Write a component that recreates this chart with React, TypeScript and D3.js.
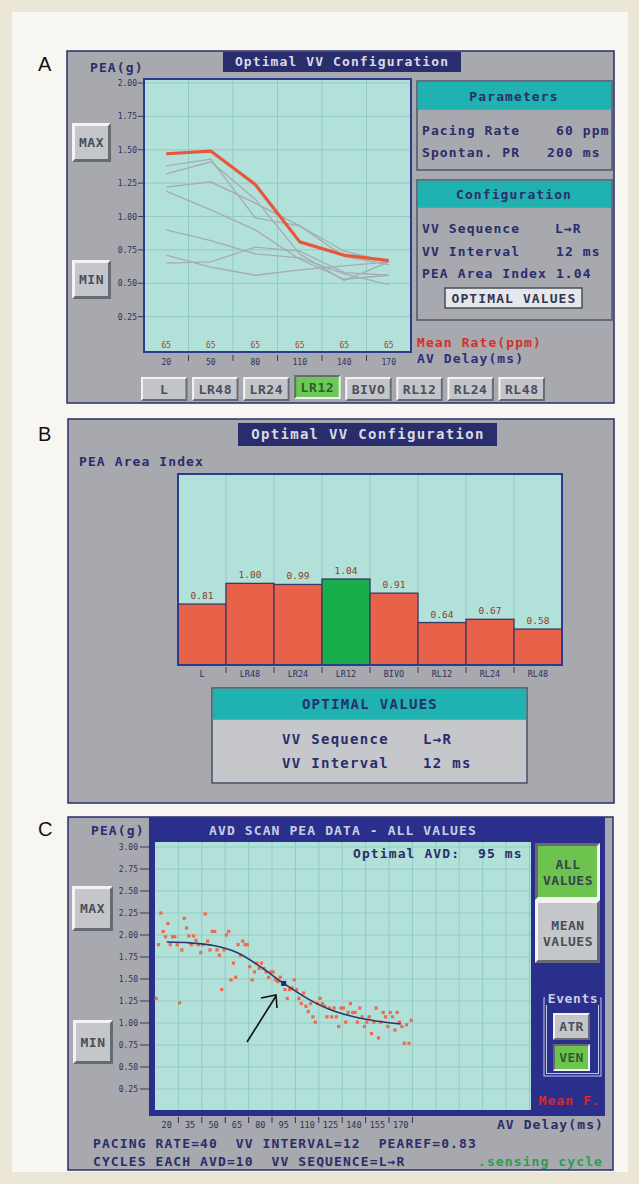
import React from 'react';
import * as d3 from 'd3';

// ---- Panel A: PEA vs AV delay for each VV configuration ----
const avdA = [20, 50, 80, 110, 140, 170];
const meanRateA = [65, 65, 65, 65, 65, 65];
const peaLR12 = [1.47, 1.49, 1.24, 0.81, 0.71, 0.67];
const peaLR48 = [1.38, 1.43, 0.99, 0.93, 0.74, 0.66];
const peaLR24 = [1.32, 1.41, 1.13, 0.72, 0.52, 0.66];
const peaBIVO = [1.22, 1.26, 1.1, 0.93, 0.7, 0.64];
const peaL = [1.19, 1.05, 0.9, 0.68, 0.53, 0.56];
const peaRL24 = [0.9, 0.82, 0.72, 0.69, 0.57, 0.49];
const peaRL48 = [0.71, 0.62, 0.56, 0.6, 0.63, 0.66];
const peaRL12 = [0.65, 0.66, 0.77, 0.74, 0.58, 0.56];
const yTicksA = [0.25, 0.5, 0.75, 1.0, 1.25, 1.5, 1.75, 2.0];

// ---- Panel B: PEA area index per configuration ----
const configs = ['L', 'LR48', 'LR24', 'LR12', 'BIVO', 'RL12', 'RL24', 'RL48'];
const peaIndex = [0.81, 1.0, 0.99, 1.04, 0.91, 0.64, 0.67, 0.58];
const optimalConfig = 'LR12';

// ---- Panel C: AVD scan, 10 cycles per AV delay ----
const avdC = [20, 35, 50, 65, 80, 95, 110, 125, 140, 155, 170];
const cycles20 = [1.28, 1.89, 2.25, 2.04, 1.98, 2.13, 1.89, 1.98, 1.98, 1.89];
const cycles35 = [1.23, 1.83, 2.19, 2.08, 1.99, 1.89, 1.99, 1.94, 1.89, 1.8];
const cycles50 = [1.89, 2.24, 1.93, 1.83, 2.04, 2.04, 1.83, 1.77, 1.38, 1.83];
const cycles65 = [2.0, 2.04, 1.49, 1.68, 1.52, 1.89, 1.77, 1.93, 1.89, 1.89];
const cycles80 = [1.64, 1.49, 1.58, 1.68, 1.62, 1.68, 1.62, 1.58, 1.52, 1.58];
const cycles95 = [1.58, 1.49, 1.47, 1.52, 1.44, 1.38, 1.28, 1.38, 1.4, 1.49];
const cycles110 = [1.38, 1.28, 1.22, 1.34, 1.19, 1.13, 1.22, 1.07, 1.01, 1.22];
const cycles125 = [1.28, 1.22, 1.19, 1.07, 1.17, 1.07, 1.17, 1.07, 0.96, 1.17];
const cycles140 = [1.17, 1.01, 1.12, 1.22, 1.12, 1.12, 1.01, 1.17, 1.07, 0.96];
const cycles155 = [1.01, 1.07, 0.88, 1.01, 1.17, 0.83, 1.01, 1.12, 1.07, 0.96];
const cycles170 = [1.12, 1.07, 0.92, 1.12, 1.01, 0.96, 0.77, 0.98, 0.77, 1.03];
const fitC = [1.92, 1.91, 1.88, 1.8, 1.64, 1.45, 1.28, 1.15, 1.07, 1.02, 0.99];
const optimalAvd = 95;
const yTicksC = [0.25, 0.5, 0.75, 1.0, 1.25, 1.5, 1.75, 2.0, 2.25, 2.5, 2.75, 3.0];

const MONO = '"DejaVu Sans Mono", monospace';
const NAVY = '#2a2d6c';
const PANEL = '#a7a9ae';
const PLOT = '#b2e1d9';
const GRID = '#93cbc3';
const TEAL = '#1fb2b0';

const T = ({ x, y, s = 13, fill = NAVY, anchor = 'start', weight = 'bold', ls = 1.1, children }: any) => (
  <text x={x} y={y} fontSize={s} fill={fill} fontFamily={MONO} fontWeight={weight}
    letterSpacing={ls} textAnchor={anchor} style={{ whiteSpace: 'pre' }}>{children}</text>
);

// raised / sunken bevel button
const Btn = ({ x, y, w, h, face = '#c4c6c9', b = 3, pressed = false, children }: any) => {
  const light = '#f3f3f3';
  const dark = '#676a72';
  return (
    <g>
      <rect x={x} y={y} width={w} height={h} fill={face} />
      <polygon points={`${x},${y} ${x + w},${y} ${x + w - b},${y + b} ${x + b},${y + b} ${x + b},${y + h - b} ${x},${y + h}`}
        fill={pressed ? dark : light} />
      <polygon points={`${x + w},${y} ${x + w},${y + h} ${x},${y + h} ${x + b},${y + h - b} ${x + w - b},${y + h - b} ${x + w - b},${y + b}`}
        fill={pressed ? light : dark} />
      {children}
    </g>
  );
};

const PanelA = () => {
  const xA = d3.scaleBand().domain(avdA.map(String)).range([144, 411]);
  const yA = d3.scaleLinear().domain([0, 2]).range([350, 83]);
  const cx = (i: number) => (xA(String(avdA[i])) as number) + xA.bandwidth() / 2;
  const line = d3.line<number>().x((_, i) => cx(i)).y(d => yA(d));
  const grays = [peaLR48, peaLR24, peaBIVO, peaL, peaRL24, peaRL48, peaRL12];
  const btnX = d3.scaleBand().domain(configs).range([141, 545]).paddingInner(0.09);

  return (
    <g>
      <text x={38} y={71} fontSize={20} fontFamily="Liberation Sans, Arial" fill="#111">A</text>
      <rect x={67} y={51} width={547} height={352} fill={PANEL} stroke={NAVY} strokeWidth={1.5} />
      <rect x={223} y={52} width={238} height={20} fill={NAVY} />
      <T x={342} y={66} fill="#d9dae8" anchor="middle">Optimal VV Configuration</T>
      <T x={90} y={72}>PEA(g)</T>

      {/* plot */}
      <rect x={144} y={79} width={267} height={273} fill={PLOT} />
      {yTicksA.map(v => (
        <line key={v} x1={145} x2={410} y1={yA(v)} y2={yA(v)} stroke={GRID} strokeWidth={1} />
      ))}
      {avdA.slice(1).map(a => (
        <line key={a} x1={xA(String(a))} x2={xA(String(a))} y1={80} y2={351} stroke={GRID} strokeWidth={1} />
      ))}
      {grays.map((g, k) => (
        <path key={k} d={line(g) as string} fill="none" stroke="#a6acb0" strokeWidth={1.3} />
      ))}
      <path d={line(peaLR12) as string} fill="none" stroke="#e8573b" strokeWidth={3.2} strokeLinejoin="round" />
      {meanRateA.map((r, i) => (
        <T key={i} x={cx(i)} y={348} s={8} fill="#b5392b" anchor="middle" weight="normal" ls={0}>{r}</T>
      ))}
      <rect x={144} y={79} width={267} height={273} fill="none" stroke="#2d3b8e" strokeWidth={2} />

      {/* axes */}
      {yTicksA.map(v => (
        <g key={v}>
          <line x1={138} x2={144} y1={yA(v)} y2={yA(v)} stroke="#3a3d5a" />
          <T x={137} y={yA(v) + 3} s={8} anchor="end" weight="normal" ls={0} fill="#2e3060">{v.toFixed(2)}</T>
        </g>
      ))}
      {avdA.map((a, i) => (
        <g key={a}>
          <T x={cx(i)} y={365} s={8} anchor="middle" weight="normal" ls={0} fill="#2e3060">{a}</T>
          {i > 0 && <line x1={xA(String(a))} x2={xA(String(a))} y1={355} y2={361} stroke="#3a3d5a" />}
        </g>
      ))}
      <T x={417} y={347} fill="#d3302a">Mean Rate(ppm)</T>
      <T x={417} y={363} fill="#2d2f7a">AV Delay(ms)</T>

      {/* MAX / MIN */}
      <Btn x={72} y={123} w={39} h={39} b={3}><T x={91.5} y={147} anchor="middle" fill="#4b4e5a" ls={0.5}>MAX</T></Btn>
      <Btn x={72} y={260} w={39} h={39} b={3}><T x={91.5} y={284} anchor="middle" fill="#4b4e5a" ls={0.5}>MIN</T></Btn>

      {/* parameter boxes */}
      <rect x={417} y={81} width={195} height={89} fill={PANEL} stroke="#50546a" strokeWidth={1.5} />
      <rect x={417.75} y={81.75} width={193.5} height={28} fill={TEAL} />
      <T x={514} y={101} anchor="middle">Parameters</T>
      <T x={422} y={135}>Pacing Rate</T>
      <T x={556} y={135}>60 ppm</T>
      <T x={422} y={157}>Spontan. PR</T>
      <T x={547} y={157}>200 ms</T>

      <rect x={417} y={180} width={195} height={140} fill={PANEL} stroke="#50546a" strokeWidth={1.5} />
      <rect x={417.75} y={180.75} width={193.5} height={27} fill={TEAL} />
      <T x={514} y={199} anchor="middle">Configuration</T>
      <T x={422} y={233}>VV Sequence</T>
      <T x={555} y={233}>L→R</T>
      <T x={422} y={256}>VV Interval</T>
      <T x={556} y={256}>12 ms</T>
      <T x={422} y={278}>PEA Area Index 1.04</T>
      <rect x={445} y={288} width={137} height={20} fill="#e6e7ea" stroke="#4a4d5c" strokeWidth={1.5} />
      <T x={514} y={303} anchor="middle" fill="#33364e">OPTIMAL VALUES</T>

      {/* configuration buttons */}
      {configs.map(c => {
        const on = c === optimalConfig;
        const x = btnX(c) as number;
        const w = btnX.bandwidth();
        return (
          <Btn key={c} x={x} y={on ? 375 : 377} w={w} h={24} b={2} face={on ? '#6cc957' : '#c3c5c8'} pressed={on}>
            <T x={x + w / 2} y={(on ? 375 : 377) + 17} anchor="middle" fill={on ? '#2e5f2a' : '#4a4f63'} ls={0.6}>{c}</T>
          </Btn>
        );
      })}
    </g>
  );
};

const PanelB = () => {
  const xB = d3.scaleBand().domain(configs).range([178, 562]);
  const yB = d3.scaleLinear().domain([0.25, 2.0]).range([665, 474.5]);
  const bw = xB.bandwidth();
  return (
    <g>
      <text x={38} y={441} fontSize={20} fontFamily="Liberation Sans, Arial" fill="#111">B</text>
      <rect x={68} y={419} width={546} height={384} fill={PANEL} stroke={NAVY} strokeWidth={1.5} />
      <rect x={238} y={423} width={259} height={23} fill={NAVY} />
      <T x={368} y={439} s={14} fill="#d9dae8" anchor="middle" ls={1.3}>Optimal VV Configuration</T>
      <T x={79} y={466}>PEA Area Index</T>

      <rect x={178} y={474} width={384} height={191} fill={PLOT} />
      {configs.slice(1).map(c => (
        <line key={c} x1={xB(c)} x2={xB(c)} y1={475} y2={664} stroke={GRID} />
      ))}
      {configs.map((c, i) => (
        <g key={c}>
          <rect x={xB(c)} y={yB(peaIndex[i])} width={bw} height={665 - yB(peaIndex[i])}
            fill={c === optimalConfig ? '#18ae4b' : '#e8624a'} stroke="#3c3868" strokeWidth={1.3} />
          <T x={(xB(c) as number) + bw / 2} y={yB(peaIndex[i]) - 5} s={9.5} anchor="middle"
            fill="#8d3b2c" weight="normal" ls={0}>{peaIndex[i].toFixed(2)}</T>
          <T x={(xB(c) as number) + bw / 2} y={677} s={8.5} anchor="middle" fill="#2e3060" weight="normal" ls={0}>{c}</T>
          {i > 0 && <line x1={xB(c)} x2={xB(c)} y1={667} y2={673} stroke="#3a3d5a" />}
        </g>
      ))}
      <rect x={178} y={474} width={384} height={191} fill="none" stroke="#2d3b8e" strokeWidth={2} />

      <rect x={212} y={688} width={315} height={95} fill="#c5c7cb" stroke="#4a4f66" strokeWidth={1.5} />
      <rect x={212.75} y={688.75} width={313.5} height={31} fill={TEAL} />
      <T x={370} y={709} s={14} anchor="middle" ls={1.3}>OPTIMAL VALUES</T>
      <T x={282} y={744} s={14} ls={1.3}>VV Sequence</T>
      <T x={423} y={744} s={14} ls={1.3}>L→R</T>
      <T x={282} y={768} s={14} ls={1.3}>VV Interval</T>
      <T x={423} y={768} s={14} ls={1.3}>12 ms</T>
    </g>
  );
};

const PanelC = () => {
  const xC = d3.scaleLinear().domain([12.5, 253.5]).range([155, 531]);
  const yC = d3.scaleLinear().domain([0, 3]).range([1111, 847]);
  const cycles = [cycles20, cycles35, cycles50, cycles65, cycles80, cycles95,
    cycles110, cycles125, cycles140, cycles155, cycles170];
  const step = 15;
  const fitLine = d3.line<number>().x((_, i) => xC(avdC[i])).y(d => yC(d)).curve(d3.curveMonotoneX);
  const optIdx = avdC.indexOf(optimalAvd);
  const gridX = d3.range(12.5 + step, 253, step);

  return (
    <g>
      <text x={38} y={836} fontSize={20} fontFamily="Liberation Sans, Arial" fill="#111">C</text>
      <rect x={68} y={817} width={545} height={353} fill={PANEL} stroke={NAVY} strokeWidth={1.5} />
      <rect x={149} y={817} width={456} height={299} fill="#2b2f8c" />
      <T x={343} y={835} fill="#c9cde6" anchor="middle">AVD SCAN PEA DATA - ALL VALUES</T>
      <T x={91} y={835}>PEA(g)</T>

      <rect x={155} y={842} width={376} height={268} fill={PLOT} />
      {yTicksC.map(v => (
        <line key={v} x1={155} x2={531} y1={yC(v)} y2={yC(v)} stroke={GRID} />
      ))}
      {gridX.map(a => (
        <line key={a} x1={xC(a)} x2={xC(a)} y1={842} y2={1110} stroke={GRID} />
      ))}
      <T x={353} y={858}>Optimal AVD:  95 ms</T>

      {cycles.map((vals, k) => vals.map((v, i) => (
        <rect key={`${k}-${i}`} x={xC(avdC[k] - step / 2 + (i + 0.5) * step / 10) - 1.6} y={yC(v) - 1.6}
          width={3.2} height={3.2} fill="#ef6a4f" />
      )))}
      <path d={fitLine(fitC) as string} fill="none" stroke="#2c3768" strokeWidth={1.6} />
      <rect x={xC(optimalAvd) - 2.5} y={yC(fitC[optIdx]) - 2.5} width={5} height={5} fill="#1f2a78" />

      {/* arrow to the optimal point */}
      <g stroke="#111" strokeWidth={1.6} fill="none">
        <line x1={247} y1={1042} x2={276} y2={996} />
        <polyline points={`261,998 276,995 277,1008`} />
      </g>

      {yTicksC.map(v => (
        <g key={v}>
          <line x1={140} x2={149} y1={yC(v)} y2={yC(v)} stroke="#3a3d5a" />
          <T x={138} y={yC(v) + 3} s={8} anchor="end" weight="normal" ls={0} fill="#2e3060">{v.toFixed(2)}</T>
        </g>
      ))}
      {avdC.map(a => (
        <g key={a}>
          <T x={xC(a)} y={1128} s={8.5} anchor="middle" weight="normal" ls={0} fill="#2e3060">{a}</T>
          <line x1={xC(a + step / 2)} x2={xC(a + step / 2)} y1={1117} y2={1123} stroke="#2e3060" />
        </g>
      ))}
      <T x={604} y={1129} anchor="end">AV Delay(ms)</T>

      <Btn x={72} y={886} w={41} h={45} b={3}><T x={92.5} y={913} anchor="middle" fill="#4b4e5a" ls={0.5}>MAX</T></Btn>
      <Btn x={73} y={1020} w={40} h={44} b={3}><T x={93} y={1047} anchor="middle" fill="#4b4e5a" ls={0.5}>MIN</T></Btn>

      <Btn x={535} y={843} w={65} h={57} b={3} face="#6cc34e" pressed>
        <T x={568} y={869} anchor="middle" fill="#3a4250" ls={0.5}>ALL</T>
        <T x={568} y={885} anchor="middle" fill="#3a4250" ls={0.5}>VALUES</T>
      </Btn>
      <Btn x={535} y={900} w={65} h={63} b={3}>
        <T x={568} y={930} anchor="middle" fill="#4b4e5a" ls={0.5}>MEAN</T>
        <T x={568} y={946} anchor="middle" fill="#4b4e5a" ls={0.5}>VALUES</T>
      </Btn>

      <rect x={544} y={998} width={57} height={78} fill="none" stroke="#c5cbe6" strokeWidth={1} />
      <rect x={546.5} y={1000.5} width={52} height={73} fill="none" stroke="#c5cbe6" strokeWidth={1} />
      <rect x={545} y={993} width={55} height={12} fill="#2b2f8c" />
      <T x={573} y={1003} anchor="middle" fill="#c9cde6" ls={0.6}>Events</T>
      <Btn x={553} y={1013} w={37} h={27} b={2}><T x={571.5} y={1031} anchor="middle" fill="#4b4e5a" ls={0.4}>ATR</T></Btn>
      <Btn x={553} y={1044} w={37} h={27} b={2} face="#6cc34e" pressed><T x={571.5} y={1062} anchor="middle" fill="#2e5f2a" ls={0.4}>VEN</T></Btn>
      <T x={601} y={1105} anchor="end" fill="#e0241f">Mean F.</T>

      <T x={93} y={1148}>PACING RATE=40  VV INTERVAL=12  PEAREF=0.83</T>
      <T x={93} y={1166}>CYCLES EACH AVD=10  VV SEQUENCE=L→R</T>
      <T x={603} y={1166} anchor="end" fill="#2c9e4e">.sensing cycle</T>
    </g>
  );
};

export default function App() {
  return (
    <div style={{ position: 'absolute', left: 0, top: 0 }}>
      <svg width={639} height={1184} viewBox="0 0 639 1184" style={{ display: 'block' }}>
        <rect width={639} height={1184} fill="#ebe5d5" />
        <rect x={12} y={12} width={616} height={1160} fill="#f8f6f0" />
        <PanelA />
        <PanelB />
        <PanelC />
      </svg>
    </div>
  );
}
